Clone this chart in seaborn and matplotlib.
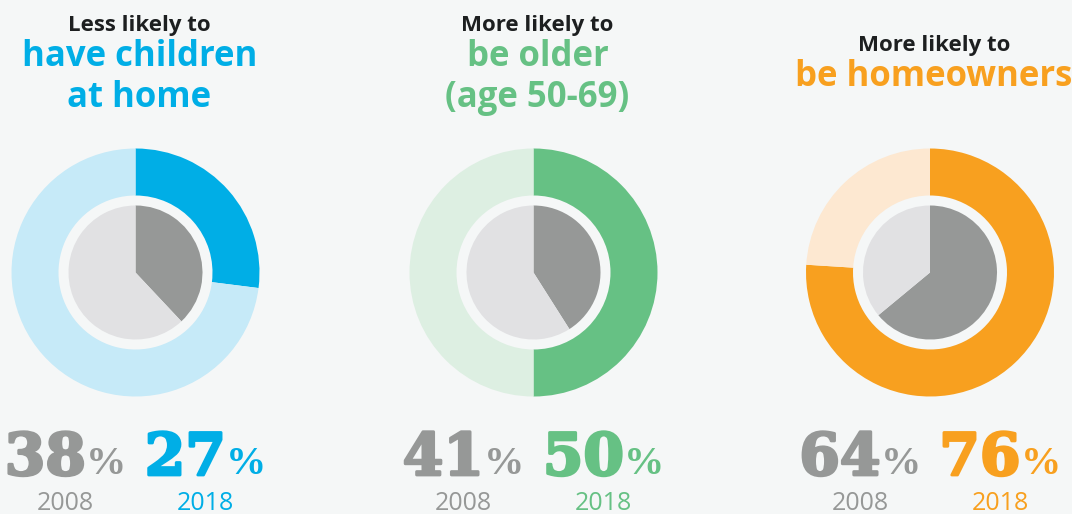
import numpy as np
import matplotlib
matplotlib.use("Agg")
import matplotlib.pyplot as plt
import matplotlib.patheffects as pe
import seaborn as sns

# data
lead_lines = ["Less likely to", "More likely to", "More likely to"]
main_lines = [["have children", "at home"], ["be older", "(age 50-69)"], ["be homeowners"]]
share_2008 = [38, 41, 64]
share_2018 = [27, 50, 76]
years = ["2008", "2018"]

accent = ["#00aee6", "#66c184", "#f8a01f"]
accent_light = ["#c6eaf8", "#ddefe2", "#fde8d1"]
gray_dark = "#969897"
gray_light = "#e1e1e3"
bg = "#f5f7f7"
ink = "#1d1f20"

sns.set_theme(style="white")
plt.rcParams["font.family"] = ["Open Sans", "DejaVu Sans"]

W, H = 1072, 514
fig = plt.figure(figsize=(W / 100, H / 100), dpi=100, facecolor=bg)

def fx(x):
    return x / W

def fy(y):
    return 1 - y / H

centers = [135.5, 533.5, 930]
cy = 272.5
R = 124
ring_w = 47
pie_r = 67

for i, cx in enumerate(centers):
    ax = fig.add_axes([fx(cx - R), (H - cy - R) / H, 2 * R / W, 2 * R / H])
    ax.set_facecolor(bg)
    v18 = share_2018[i]
    v08 = share_2008[i]
    ax.pie([v18, 100 - v18], colors=[accent[i], accent_light[i]], radius=1,
           startangle=90, counterclock=False,
           wedgeprops=dict(width=ring_w / R, linewidth=0))
    ax.pie([v08, 100 - v08], colors=[gray_dark, gray_light], radius=pie_r / R,
           startangle=90, counterclock=False, wedgeprops=dict(linewidth=0))
    ax.set_xlim(-1, 1)
    ax.set_ylim(-1, 1)
    ax.set_aspect("equal")
    ax.axis("off")

    # titles
    shift = (2 - len(main_lines[i])) * 20
    fig.text(fx(cx + 4), fy(31 + shift), lead_lines[i], ha="center", va="baseline",
             fontsize=16, fontweight="bold", color=ink)
    for j, line in enumerate(main_lines[i]):
        fig.text(fx(cx + 4), fy(66 + shift + j * 41), line, ha="center", va="baseline",
                 fontsize=25, fontweight="bold", color=accent[i])

fig.canvas.draw()
renderer = fig.canvas.get_renderer()

for i, cx in enumerate(centers):
    for k, (val, col) in enumerate([(share_2008[i], gray_dark), (share_2018[i], accent[i])]):
        gx = cx - 70 if k == 0 else cx + 70
        num = fig.text(0, fy(475), str(val), ha="left", va="baseline",
                       fontsize=42, fontweight="bold", family="DejaVu Serif", color=col,
                       path_effects=[pe.withStroke(linewidth=2, foreground=col)])
        pct = fig.text(0, fy(474), "%", ha="left", va="baseline",
                       fontsize=29, family="Liberation Serif", fontweight="bold", color=col)
        wn = num.get_window_extent(renderer).width
        wp = pct.get_window_extent(renderer).width
        gap = 0
        x0 = gx - (wn + gap + wp) / 2
        num.set_x(fx(x0))
        pct.set_x(fx(x0 + wn + gap))
        fig.text(fx(gx), fy(510), years[k], ha="center", va="baseline",
                 fontsize=18, color=col)

fig.savefig("out.png", dpi=100, facecolor=bg)
